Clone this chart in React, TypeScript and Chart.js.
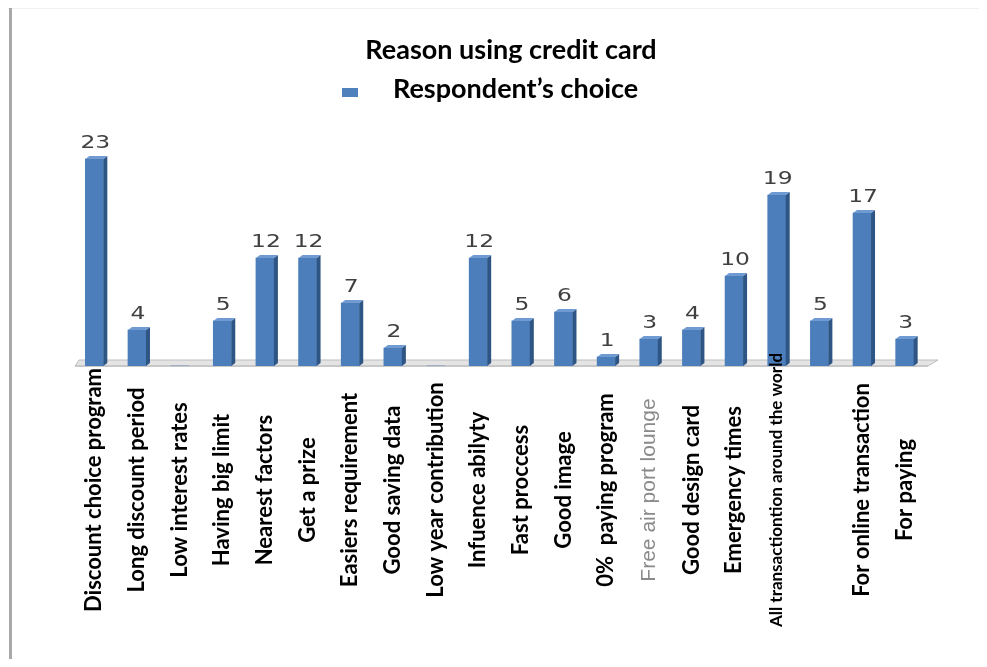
import React, { useEffect, useRef } from "react";
import { Chart, registerables } from "chart.js";

Chart.register(...registerables);

const TITLE = "Reason using credit card";
const SERIES_NAME = "Respondent\u2019s choice";

const categories: string[] = [
  "Discount choice program",
  "Long discount period",
  "Low interest rates",
  "Having big limit",
  "Nearest factors",
  "Get a prize",
  "Easiers requirement",
  "Good saving data",
  "Low year contribution",
  "Infuence abilyty",
  "Fast proccess",
  "Good image",
  "0%  paying program",
  "Free air port lounge",
  "Good design card",
  "Emergency times",
  "All transactiontion around the world",
  "",
  "For online transaction",
  "For paying",
];

const values: number[] = [23, 4, 0, 5, 12, 12, 7, 2, 0, 12, 5, 6, 1, 3, 4, 10, 19, 5, 17, 3];

const Y_MAX = 25;

const FRONT = "#4b7ebb";
const SIDE = "#2f5584";
const TOP = "#6f9bd2";

const labelFont = (i: number) => {
  if (i === 13) return { font: '21px "Liberation Sans Narrow", "Liberation Sans", sans-serif', color: "#8a8a8a" };
  if (i === 16) return { font: 'bold 17px Lato, sans-serif', color: "#000000" };
  return { font: 'bold 22px Lato, sans-serif', color: "#000000" };
};

const decoPlugin = {
  id: "deco",
  beforeDraw(chart: any) {
    const ctx = chart.ctx as CanvasRenderingContext2D;
    ctx.save();
    ctx.fillStyle = "#f0f0f0";
    ctx.fillRect(0, 0, chart.width, 1);
    ctx.fillStyle = "#a8a8a8";
    ctx.fillRect(1, 0, 3, chart.height);
    ctx.fillStyle = "#000";
    ctx.font = "bold 27px Lato, sans-serif";
    ctx.textAlign = "center";
    ctx.textBaseline = "alphabetic";
    ctx.fillText(TITLE, 503, 51);
    ctx.fillStyle = "#4f81bd";
    ctx.fillRect(334, 80, 16, 9);
    ctx.fillStyle = "#000";
    ctx.font = "bold 27px Lato, sans-serif";
    ctx.textAlign = "left";
    ctx.fillText(chart.data.datasets[0].label, 385, 90);
    ctx.restore();
  },
  beforeDatasetsDraw(chart: any) {
    const ctx = chart.ctx as CanvasRenderingContext2D;
    const { left, right } = chart.chartArea;
    const base = chart.scales.y.getPixelForValue(0);
    ctx.save();
    ctx.beginPath();
    ctx.moveTo(left + 6, base - 6);
    ctx.lineTo(right + 12, base - 6);
    ctx.lineTo(right + 2, base);
    ctx.lineTo(left + 2, base);
    ctx.closePath();
    ctx.fillStyle = "#e4e4e4";
    ctx.fill();
    ctx.strokeStyle = "#bdbdbd";
    ctx.lineWidth = 1;
    ctx.stroke();
    ctx.fillStyle = "#c8c8c8";
    ctx.fillRect(left + 2, base - 1, right - left, 2);
    ctx.restore();
  },
  afterDatasetsDraw(chart: any) {
    const ctx = chart.ctx as CanvasRenderingContext2D;
    const meta = chart.getDatasetMeta(0);
    const data = chart.data.datasets[0].data as number[];
    const dx = 4;
    const dy = 3;
    ctx.save();
    meta.data.forEach((bar: any, i: number) => {
      if (!data[i]) return;
      const { x, y, base, width } = bar.getProps(["x", "y", "base", "width"], true);
      const l = x - width / 2;
      const r = x + width / 2;
      ctx.fillStyle = SIDE;
      ctx.beginPath();
      ctx.moveTo(r, y);
      ctx.lineTo(r + dx, y - dy);
      ctx.lineTo(r + dx, base - dy);
      ctx.lineTo(r, base);
      ctx.closePath();
      ctx.fill();
      ctx.fillStyle = TOP;
      ctx.beginPath();
      ctx.moveTo(l, y);
      ctx.lineTo(l + dx, y - dy);
      ctx.lineTo(r + dx, y - dy);
      ctx.lineTo(r, y);
      ctx.closePath();
      ctx.fill();
    });
    // data labels (horizontally stretched, as in the source)
    ctx.font = '18px "DejaVu Sans", sans-serif';
    ctx.fillStyle = "#404040";
    ctx.textAlign = "center";
    ctx.textBaseline = "alphabetic";
    meta.data.forEach((bar: any, i: number) => {
      if (!data[i]) return;
      const { x, y } = bar.getProps(["x", "y"], true);
      ctx.save();
      ctx.translate(x + 1, y - 11);
      ctx.scale(1.3, 1);
      ctx.fillText(String(data[i]), 0, 0);
      ctx.restore();
    });
    // category labels, rotated, centred in the label band
    const xs = chart.scales.x;
    const labels = chart.data.labels as string[];
    labels.forEach((lab: string, i: number) => {
      if (!lab) return;
      const st = labelFont(i);
      const px = xs.getPixelForValue(i);
      ctx.save();
      ctx.translate(px, 482);
      ctx.rotate(-Math.PI / 2);
      ctx.font = st.font;
      ctx.fillStyle = st.color;
      ctx.textAlign = "center";
      ctx.textBaseline = "middle";
      ctx.fillText(lab, 0, 0);
      ctx.restore();
    });
    ctx.restore();
  },
};

export default function App() {
  const ref = useRef<HTMLCanvasElement | null>(null);
  useEffect(() => {
    if (!ref.current) return;
    const chart = new Chart(ref.current, {
      type: "bar",
      data: {
        labels: categories,
        datasets: [
          {
            label: SERIES_NAME,
            data: values,
            backgroundColor: FRONT,
            borderWidth: 0,
            barThickness: 18,
          },
        ],
      },
      options: {
        responsive: false,
        animation: false,
        layout: { padding: { left: 65, right: 53, top: 133, bottom: 293 } },
        plugins: {
          legend: { display: false },
          title: { display: false },
          tooltip: { enabled: false },
        },
        scales: {
          x: { display: false, offset: true, grid: { display: false } },
          y: { display: false, min: 0, max: Y_MAX, grid: { display: false } },
        },
      },
      plugins: [decoPlugin],
    });
    return () => chart.destroy();
  }, []);
  return (
    <div style={{ width: 971, height: 651, background: "#fff" }}>
      <canvas ref={ref} width={971} height={651} style={{ display: "block" }} />
    </div>
  );
}
